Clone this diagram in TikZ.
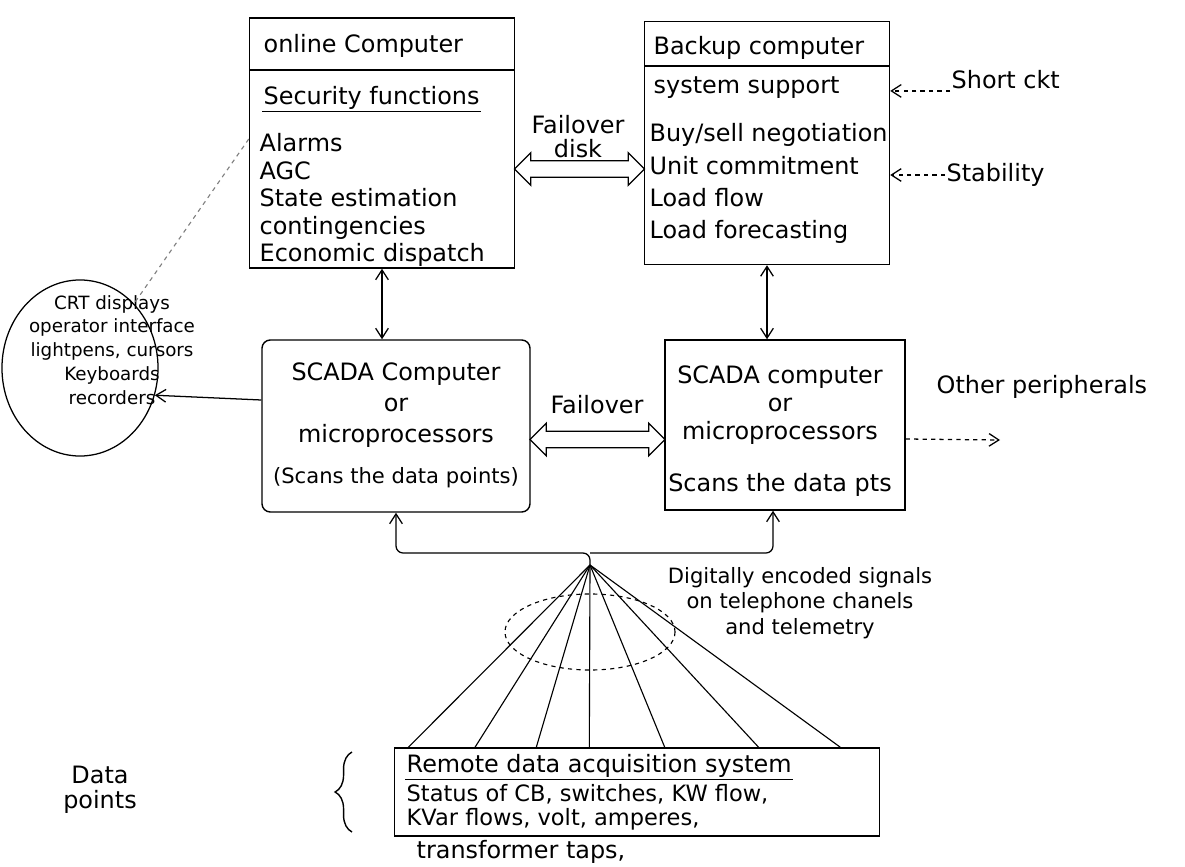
\documentclass[tikz,border=0pt]{standalone}
\usepackage{fontspec}
\setmainfont{DejaVu Sans}
\usetikzlibrary{shapes,arrows,arrows.meta,positioning,calc,decorations.pathreplacing}

\begin{document}
\begin{tikzpicture}[x=0.025cm,y=-0.025cm,
  hand/.style={font=\fontsize{17}{20}\selectfont, inner sep=1pt},
  small/.style={font=\fontsize{13}{16}\selectfont, inner sep=1pt},
  boxed/.style={draw, line width=1pt, inner sep=0pt},
  fatarrow/.style={double arrow, draw, line width=0.9pt, inner xsep=0pt, inner ysep=0.19cm, double arrow head extend=0.2cm},
  link/.style={line width=0.9pt, -{Straight Barb[length=7pt,width=9pt]}},
  twolink/.style={line width=0.9pt, {Straight Barb[length=7pt,width=9pt]}-{Straight Barb[length=7pt,width=9pt]}}]
\useasboundingbox (0,0) rectangle (1185,867);

% online computer
\node[boxed, minimum width=6.625cm, minimum height=6.25cm] (online) at (382,143) {};
\node[hand, anchor=west] (ontitle) at (262,46) {online Computer};
\draw[line width=0.8pt] (250,70) -- (515,70);
\node[hand, anchor=west] (secfn) at (262,98) {Security functions};
\draw[line width=0.8pt] (secfn.south west) -- (secfn.south east);
\node[hand, anchor=north west, align=left, font=\fontsize{17}{19.5}\selectfont] (onitems) at (258,132) {Alarms\\AGC\\State estimation\\contingencies\\Economic dispatch};

% backup computer
\node[boxed, minimum width=6.125cm, minimum height=6.075cm] (bk) at (767,143) {};
\node[hand, anchor=west] (bktitle) at (652,48) {Backup computer};
\draw[line width=0.8pt] (645,66) -- (890,66);
\node[hand, anchor=west] (sysup) at (652,88) {system support};
\node[hand, anchor=north west, align=left, font=\fontsize{17}{23}\selectfont] (bkitems) at (648,122) {Buy/sell negotiation\\Unit commitment\\Load flow\\Load forecasting};

\node[hand, anchor=west] (sckt) at (950,80) {Short ckt};
\draw[link, dashed] (sckt.south west) -- (sckt.south west -| bk.east);
\node[hand, anchor=west] (stab) at (945,175) {Stability};
\draw[link, dashed] (stab.west) -- (stab.west -| bk.east);

\node[fatarrow, minimum height=3.25cm] (fdarrow) at ($(online.east)!0.5!(bk.west)+(0,26)$) {};
\node[hand, align=center, font=\fontsize{17}{17}\selectfont] (fodisk) at (578,137) {Failover\\disk};

% scada
\node[boxed, rounded corners=6pt, minimum width=6.7cm, minimum height=4.3cm] (sc1) at (396,426) {};
\node[hand, align=center, font=\fontsize{17}{22}\selectfont] (sc1txt) at (396,405) {SCADA Computer\\or\\microprocessors};
\node[hand, font=\fontsize{15}{16}\selectfont] (sc1scan) at (396,478) {(Scans the data points)};
\node[boxed, minimum width=6cm, minimum height=4.25cm] (sc2) at (785,425) {};
\node[hand, align=center, font=\fontsize{17}{20}\selectfont] (sc2txt) at (780,405) {SCADA computer\\or\\microprocessors};
\node[hand] (sc2scan) at (780,485) {Scans the data pts};

\draw[twolink] (online.south) -- (online.south |- sc1.north);
\draw[twolink] (bk.south) -- (bk.south |- sc2.north);
\node[fatarrow, minimum height=3.375cm] (foarrow) at ($(sc1.east)!0.5!(sc2.west)+(0,14)$) {};
\node[hand] (fo) at (597,405) {Failover};

% operator side
\node[draw, ellipse, line width=0.9pt, minimum width=3.9cm, minimum height=4.4cm] (crt) at (80,368) {};
\node[small, align=center, font=\fontsize{13}{17}\selectfont] (crttxt) at (112,350) {CRT displays\\operator interface\\lightpens, cursors\\Keyboards\\recorders};
\draw[link] ([yshift=0.65cm]sc1.west) -- (crt.-20);
\draw[line width=0.8pt, dashed, gray] ([yshift=0.1cm]online.west) -- (crt.50);

\node[hand, anchor=west] (othp) at (935,387) {Other peripherals};
\coordinate (othend) at (1000,440);
\draw[link, dashed] ([yshift=-0.35cm]sc2.east) -- (othend);

% data links
\coordinate (hub) at (590,565);
\coordinate (bus) at (590,553);
\draw[link, rounded corners=5pt] (hub) -- (bus) -| (sc1.south);
\draw[link, rounded corners=5pt] (bus) -| ([xshift=-0.3cm]sc2.south);
\node[boxed, minimum width=12.125cm, minimum height=2.2cm] (rdas) at (637,792) {};
\foreach \f in {0.03,0.167,0.293,0.402,0.557,0.75,0.918}
  \draw[line width=0.8pt] (hub) -- ($(rdas.north west)!\f!(rdas.north east)$);
\draw[line width=0.8pt, dashed] (590,632) ellipse [x radius=2.125cm, y radius=0.95cm];
\node[small, align=center, font=\fontsize{15}{18}\selectfont] (digi) at (800,603) {Digitally encoded signals\\on telephone chanels\\and telemetry};

% remote data acquisition
\node[hand, anchor=west] (rdtitle) at (405,766) {Remote data acquisition system};
\draw[line width=0.8pt] (rdtitle.south west) -- (rdtitle.south east);
\node[hand, anchor=north west, align=left, font=\fontsize{16}{17}\selectfont] (rditems) at (405,783) {Status of CB, switches, KW flow,\\KVar flows, volt, amperes,};
\node[hand, anchor=west] (taps) at (415,852) {transformer taps,};
\draw[decorate, decoration={brace, amplitude=12pt}, line width=1pt] (352,832) -- (352,752);
\node[hand, align=center, font=\fontsize{17}{18}\selectfont] (dpts) at (100,790) {Data\\points};
\end{tikzpicture}
\end{document}
